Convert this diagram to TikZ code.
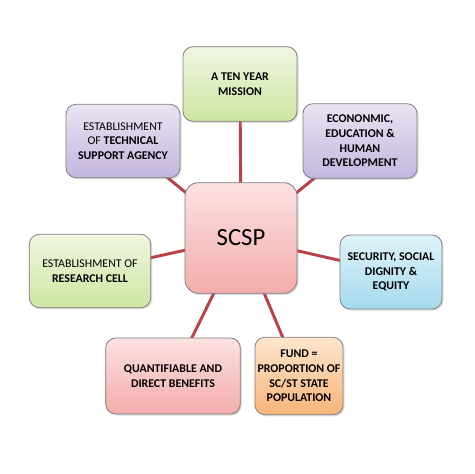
\documentclass[tikz,border=0pt]{standalone}
\usepackage{fontspec}
\setmainfont{Carlito}
\usetikzlibrary{backgrounds,shadows}

\definecolor{linkred}{RGB}{185,65,72}
\definecolor{boxline}{RGB}{125,125,125}

\tikzset{
  box/.style={draw=boxline,line width=0.6pt,rounded corners=7.5pt,align=center,
    inner sep=2pt,font=\fontsize{8.9}{11}\selectfont\bfseries,
    drop shadow={opacity=0.25,shadow xshift=1.2pt,shadow yshift=-1.2pt}},
  greenbox/.style={box,top color={rgb,255:red,240;green,246;blue,226},bottom color={rgb,255:red,205;green,230;blue,160}},
  purplebox/.style={box,top color={rgb,255:red,234;green,228;blue,242},bottom color={rgb,255:red,196;green,182;blue,222}},
  pinkbox/.style={box,top color={rgb,255:red,252;green,226;blue,226},bottom color={rgb,255:red,243;green,172;blue,172}},
  bluebox/.style={box,top color={rgb,255:red,224;green,243;blue,250},bottom color={rgb,255:red,164;green,218;blue,236}},
  orangebox/.style={box,top color={rgb,255:red,253;green,230;blue,206},bottom color={rgb,255:red,248;green,180;blue,120}},
  link/.style={draw=linkred,line width=2.2pt}
}

\begin{document}
\begin{tikzpicture}[x=0.75pt,y=-0.75pt]

\useasboundingbox (0,0) rectangle (474,474);

\node [pinkbox,rounded corners=10pt,minimum width=84pt,minimum height=83pt,font=\fontsize{18.5}{20}\selectfont] (scsp) at (241,238) {SCSP};

\node [greenbox,minimum width=85.5pt,minimum height=56pt] (mission) at (240,84) {A TEN YEAR\\MISSION};
\node [purplebox,minimum width=85.5pt,minimum height=55pt] (agency) at (123,141) {\mdseries ESTABLISHMENT\\\mdseries OF \bfseries TECHNICAL\\SUPPORT AGENCY};
\node [purplebox,minimum width=85.5pt,minimum height=56pt] (econ) at (360,141) {ECONONMIC,\\EDUCATION \&\\HUMAN\\DEVELOPMENT};
\node [greenbox,minimum width=91pt,minimum height=55pt] (cell) at (90,271) {\mdseries ESTABLISHMENT OF\\RESEARCH CELL};
\node [bluebox,minimum width=76.5pt,minimum height=55.5pt] (equity) at (391,272) {SECURITY, SOCIAL\\DIGNITY \&\\EQUITY};
\node [pinkbox,minimum width=101pt,minimum height=57pt] (benefit) at (173,376) {QUANTIFIABLE AND\\DIRECT BENEFITS};
\node [orangebox,minimum width=61.5pt,minimum height=58pt] (fund) at (299,376) {FUND =\\PROPORTION OF\\SC/ST STATE\\POPULATION};

% spokes behind the boxes
\begin{scope}[on background layer]
\foreach \n in {mission,agency,econ,cell,equity,benefit,fund}
  \draw [link] (scsp.center) -- (\n.center);
\end{scope}

\end{tikzpicture}
\end{document}
